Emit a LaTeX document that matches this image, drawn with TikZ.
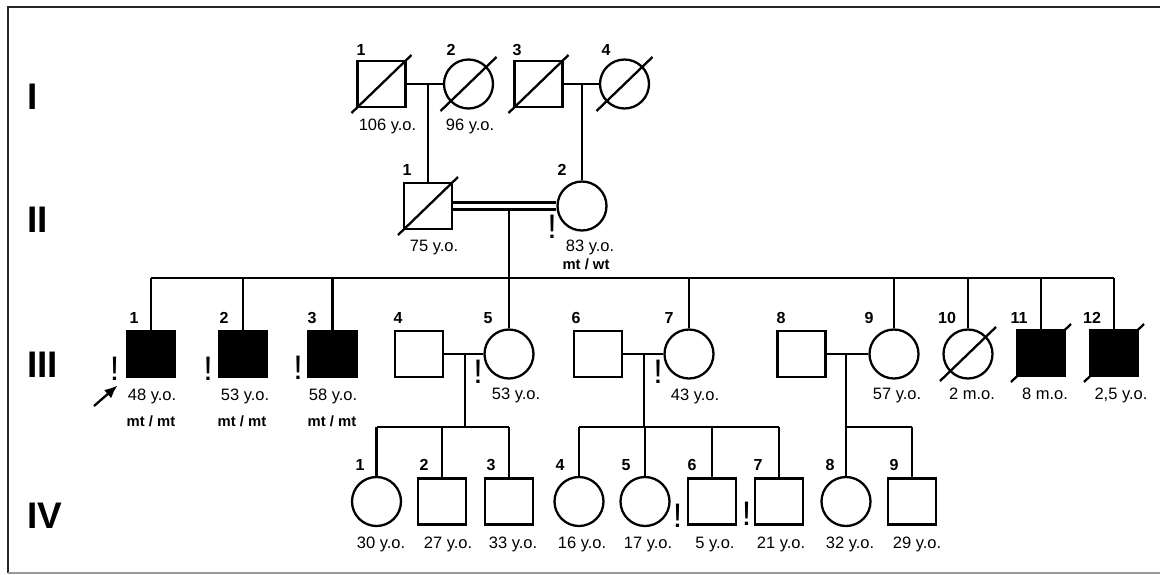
\documentclass[tikz,border=0pt]{standalone}
\usepackage{fontspec}
\setmainfont{Liberation Sans}
\usetikzlibrary{arrows.meta}
\tikzset{
  rel/.style={line width=2.3pt},
  male/.style={draw, line width=2.3pt, rectangle, minimum width=48pt, minimum height=46pt, inner sep=0pt},
  female/.style={draw, line width=2.3pt, circle, minimum size=49pt, inner sep=0pt},
  aff/.style={fill=black},
  num/.style={font=\fontsize{16}{16}\selectfont\bfseries, inner sep=0pt, anchor=base},
  age/.style={font=\fontsize{16.5}{16.5}\selectfont, inner sep=0pt, anchor=base},
  geno/.style={font=\fontsize{14.8}{14.8}\selectfont\bfseries, inner sep=0pt, anchor=base},
  gen/.style={font=\fontsize{37}{37}\selectfont\bfseries, inner sep=0pt, anchor=base west},
  bang/.style={font=\fontsize{34}{34}\selectfont, inner sep=0pt, anchor=base},
  dec/.style={line width=2.3pt},
}
\newcommand\pdsq[1]{\draw[dec] ([shift={(-30,29)}]#1.center) -- ([shift={(30,-29)}]#1.center);}
\newcommand\pdci[1]{\draw[dec] ([shift={(-28,27)}]#1.center) -- ([shift={(28,-27)}]#1.center);}
\begin{document}
\begin{tikzpicture}[x=1pt,y=-1pt]
\useasboundingbox (0,0) rectangle (1160,574);
% frame
\draw[line width=2pt, color=black!85] (1160,6.5) -- (7.5,6.5) -- (7.5,573);
\draw[line width=1.5pt, color=black!40] (7.5,572.8) -- (1160,572.8);

% generation labels
\node[gen] (gI) at (27,109) {I};
\node[gen] (gII) at (27,232) {II};
\node[gen] (gIII) at (27,377) {III};
\node[gen] (gIV) at (27,528) {IV};

% generation I
\node[male] (I1) at (381.5,84) {};
\node[female] (I2) at (468.5,84) {};
\node[male] (I3) at (538.5,84) {};
\node[female] (I4) at (624.5,84) {};
% generation II
\node[male] (II1) at (428,206) {};
\node[female] (II2) at (582,206) {};
% generation III
\node[male,aff] (III1) at (151,354) {};
\node[male,aff] (III2) at (243,354) {};
\node[male,aff] (III3) at (332.5,354) {};
\node[male] (III4) at (419,354) {};
\node[female] (III5) at (509,354) {};
\node[male] (III6) at (598,354) {};
\node[female] (III7) at (689,354) {};
\node[male] (III8) at (801.5,354) {};
\node[female] (III9) at (894,354) {};
\node[female] (III10) at (968,354) {};
\node[male,aff] (III11) at (1041,353) {};
\node[male,aff] (III12) at (1114,353) {};
% generation IV
\node[female] (IV1) at (376.5,501.5) {};
\node[male] (IV2) at (442,501.5) {};
\node[male] (IV3) at (509,501.5) {};
\node[female] (IV4) at (579,501.5) {};
\node[female] (IV5) at (645,501.5) {};
\node[male] (IV6) at (712,501.5) {};
\node[male] (IV7) at (779,501.5) {};
\node[female] (IV8) at (846,501.5) {};
\node[male] (IV9) at (912,501.5) {};

% coordinates for connectors
\coordinate (m12) at (428,84);
\coordinate (m34) at (582,84);
\coordinate (cII) at (509,209.3);
\coordinate (s3) at (0,278);
\coordinate (s4) at (0,427);
\coordinate (m45) at (465,354);
\coordinate (m67) at (644,354);
\coordinate (m89) at (846,354);

% generation I couples
\draw[rel] (I1.east) -- (I2.west);
\draw[rel] (I3.east) -- (I4.west);
\draw[rel] (m12) -- (II1.north);
\draw[rel] (m34) -- (II2.north);
% consanguineous couple
\draw[rel] ([yshift=3.5pt]II1.east) -- ([yshift=3.5pt]II2.west);
\draw[rel] ([yshift=-3.5pt]II1.east) -- ([yshift=-3.5pt]II2.west);
\draw[rel] (cII) -- (III5.north);
% sibship III
\draw[rel] (III1.north |- s3) -- (III12.north |- s3);
\foreach \n in {III1,III2,III3,III7,III9,III10,III11,III12}
  \draw[rel] (\n.north) -- (\n.north |- s3);
% couples III
\draw[rel] (III4.east) -- (III5.west);
\draw[rel] (III6.east) -- (III7.west);
\draw[rel] (III8.east) -- (III9.west);
\draw[rel] (m45) -- (m45 |- s4);
\draw[rel] (m67) -- (m67 |- s4);
\draw[rel] (m89) -- (IV8.north);
% sibships IV
\draw[rel] (IV1.north |- s4) -- (IV3.north |- s4);
\foreach \n in {IV1,IV2,IV3}
  \draw[rel] (\n.north) -- (\n.north |- s4);
\draw[rel] (IV4.north |- s4) -- (IV7.north |- s4);
\foreach \n in {IV4,IV5,IV6,IV7}
  \draw[rel] (\n.north) -- (\n.north |- s4);
\draw[rel] (m89 |- s4) -- (IV9.north |- s4);
\draw[rel] (IV9.north) -- (IV9.north |- s4);

% deceased marks
\pdsq{I1}
\pdci{I2}
\pdsq{I3}
\pdci{I4}
\pdsq{II1}
\pdci{III10}
\pdsq{III11}
\pdsq{III12}

% proband arrow
\coordinate (ptail) at (94,406);
\coordinate (ptip) at (117.5,385.5);
\draw[line width=2.3pt, -{Latex[length=13pt,width=11pt]}] (ptail) -- (ptip);

% individual numbers
\node[num] (nI1) at (361,55) {1};
\node[num] (nI2) at (451,55) {2};
\node[num] (nI3) at (517,55) {3};
\node[num] (nI4) at (606,55) {4};
\node[num] (nII1) at (407,175) {1};
\node[num] (nII2) at (562,175) {2};
\node[num] (nIII1) at (134,323.5) {1};
\node[num] (nIII2) at (224,323.5) {2};
\node[num] (nIII3) at (312,323.5) {3};
\node[num] (nIII4) at (398,323.5) {4};
\node[num] (nIII5) at (488,323.5) {5};
\node[num] (nIII6) at (576,323.5) {6};
\node[num] (nIII7) at (669,323.5) {7};
\node[num] (nIII8) at (781,323.5) {8};
\node[num] (nIII9) at (869,323.5) {9};
\node[num] (nIII10) at (947,323.5) {10};
\node[num] (nIII11) at (1019,323.5) {11};
\node[num] (nIII12) at (1092,323.5) {12};
\node[num] (nIV1) at (360,470) {1};
\node[num] (nIV2) at (424,470) {2};
\node[num] (nIV3) at (491,470) {3};
\node[num] (nIV4) at (560,470) {4};
\node[num] (nIV5) at (626,470) {5};
\node[num] (nIV6) at (692,470) {6};
\node[num] (nIV7) at (758,470) {7};
\node[num] (nIV8) at (830,470) {8};
\node[num] (nIV9) at (894,470) {9};

% ages
\node[age] (aI1) at (387.5,130) {106 y.o.};
\node[age] (aI2) at (470,130) {96 y.o.};
\node[age] (aII1) at (434,251.5) {75 y.o.};
\node[age] (aII2) at (590,251) {83 y.o.};
\node[age] (aIII1) at (152,400) {48 y.o.};
\node[age] (aIII2) at (245,400) {53 y.o.};
\node[age] (aIII3) at (333,400) {58 y.o.};
\node[age] (aIII5) at (516,399) {53 y.o.};
\node[age] (aIII7) at (695,400) {43 y.o.};
\node[age] (aIII9) at (897,399) {57 y.o.};
\node[age] (aIII10) at (972,399) {2 m.o.};
\node[age] (aIII11) at (1045,399) {8 m.o.};
\node[age] (aIII12) at (1121,399) {2,5 y.o.};
\node[age] (aIV1) at (381,548) {30 y.o.};
\node[age] (aIV2) at (448,548) {27 y.o.};
\node[age] (aIV3) at (513,548) {33 y.o.};
\node[age] (aIV4) at (582,548) {16 y.o.};
\node[age] (aIV5) at (648,548) {17 y.o.};
\node[age] (aIV6) at (715,548) {5 y.o.};
\node[age] (aIV7) at (781,548) {21 y.o.};
\node[age] (aIV8) at (850,548) {32 y.o.};
\node[age] (aIV9) at (917,548) {29 y.o.};

% genotypes
\node[geno] (gtII2) at (586,269) {mt / wt};
\node[geno] (gtIII1) at (151,426) {mt / mt};
\node[geno] (gtIII2) at (242,426.5) {mt / mt};
\node[geno] (gtIII3) at (332,426.5) {mt / mt};

% exclamation marks
\node[bang] (b1) at (552,238) {!};
\node[bang] (b2) at (114.5,380) {!};
\node[bang] (b3) at (208,380) {!};
\node[bang] (b4) at (298,379) {!};
\node[bang] (b5) at (478,383) {!};
\node[bang] (b6) at (658,383) {!};
\node[bang] (b7) at (677.5,527) {!};
\node[bang] (b8) at (746.5,525) {!};
\end{tikzpicture}
\end{document}
